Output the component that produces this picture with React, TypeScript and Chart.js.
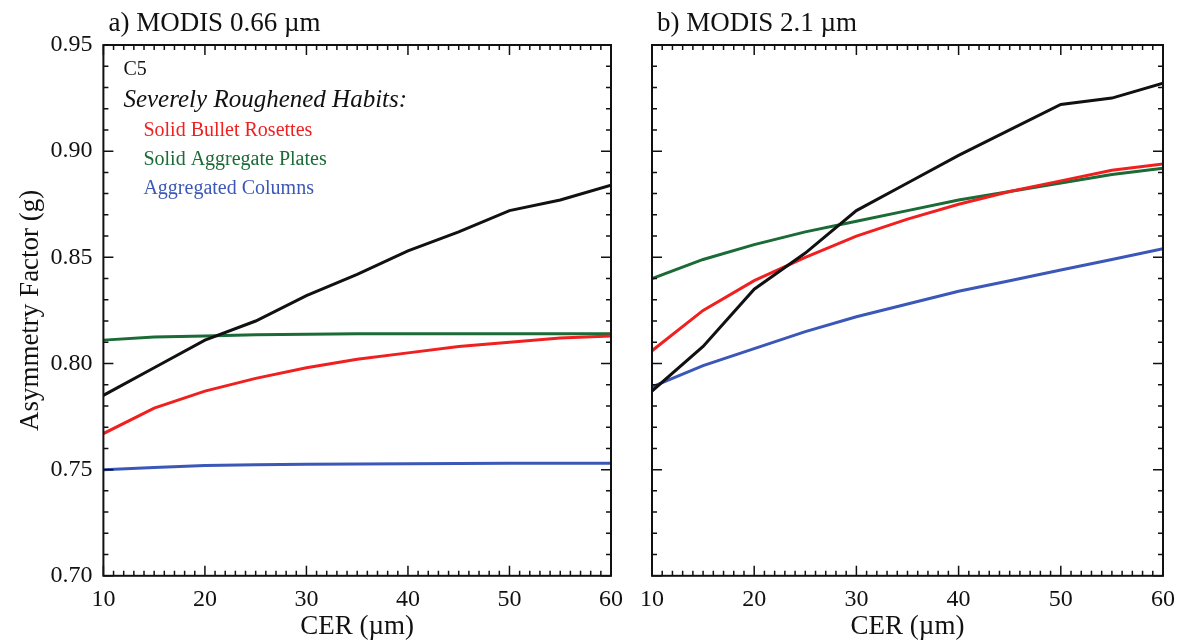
import React, { useRef, useEffect } from 'react';
import Chart from 'chart.js/auto';

const cer = [10, 15, 20, 25, 30, 35, 40, 45, 50, 55, 60];

// a) MODIS 0.66 um
const aBlack = [0.785, 0.798, 0.811, 0.820, 0.832, 0.842, 0.853, 0.862, 0.872, 0.877, 0.884];
const aRed = [0.767, 0.779, 0.787, 0.793, 0.798, 0.802, 0.805, 0.808, 0.810, 0.812, 0.813];
const aGreen = [0.811, 0.8125, 0.813, 0.8135, 0.8138, 0.814, 0.814, 0.814, 0.814, 0.814, 0.814];
const aBlue = [0.750, 0.751, 0.752, 0.7523, 0.7525, 0.7527, 0.7528, 0.7529, 0.753, 0.753, 0.753];

// b) MODIS 2.1 um
const bBlack = [0.787, 0.808, 0.835, 0.852, 0.872, 0.885, 0.898, 0.910, 0.922, 0.925, 0.932];
const bRed = [0.806, 0.825, 0.839, 0.850, 0.860, 0.868, 0.875, 0.881, 0.886, 0.891, 0.894];
const bGreen = [0.840, 0.849, 0.856, 0.862, 0.867, 0.872, 0.877, 0.881, 0.885, 0.889, 0.892];
const bBlue = [0.789, 0.799, 0.807, 0.815, 0.822, 0.828, 0.834, 0.839, 0.844, 0.849, 0.854];

const legendItems = [
  { text: 'Solid Bullet Rosettes', color: '#f02020' },
  { text: 'Solid Aggregate Plates', color: '#1a6b35' },
  { text: 'Aggregated Columns', color: '#3b58b8' },
];

const FONT = '"Liberation Serif", "Times New Roman", serif';

const tickPlugin = {
  id: 'inTicks',
  afterDraw(chart: any) {
    const { ctx, chartArea: a, scales } = chart;
    const x = scales.x, y = scales.y;
    ctx.save();
    ctx.strokeStyle = '#111';
    ctx.lineWidth = 1.5;
    for (let v = 10; v <= 60; v += 1) {
      const px = x.getPixelForValue(v);
      const len = v % 10 === 0 ? 10 : 5;
      ctx.beginPath();
      ctx.moveTo(px, a.bottom); ctx.lineTo(px, a.bottom - len);
      ctx.moveTo(px, a.top); ctx.lineTo(px, a.top + len);
      ctx.stroke();
    }
    for (let i = 0; i <= 25; i++) {
      const v = 0.7 + i * 0.01;
      const py = y.getPixelForValue(v);
      const len = i % 5 === 0 ? 10 : 5;
      ctx.beginPath();
      ctx.moveTo(a.left, py); ctx.lineTo(a.left + len, py);
      ctx.moveTo(a.right, py); ctx.lineTo(a.right - len, py);
      ctx.stroke();
    }
    ctx.lineWidth = 2;
    ctx.strokeRect(a.left, a.top, a.right - a.left, a.bottom - a.top);
    // panel title
    ctx.fillStyle = '#111';
    ctx.font = `27px ${FONT}`;
    ctx.textBaseline = 'alphabetic';
    ctx.fillText(chart.options.plugins.panelTitle, a.left + 5, 31);
    ctx.restore();
  },
};

const legendPlugin = {
  id: 'textLegend',
  afterDraw(chart: any) {
    const { ctx, chartArea: a } = chart;
    ctx.save();
    ctx.textBaseline = 'alphabetic';
    ctx.fillStyle = '#111';
    ctx.font = `20px ${FONT}`;
    ctx.fillText('C5', a.left + 20, a.top + 30);
    ctx.font = `italic 25px ${FONT}`;
    ctx.fillText('Severely Roughened Habits:', a.left + 20, a.top + 62);
    ctx.font = `20px ${FONT}`;
    legendItems.forEach((it, i) => {
      ctx.fillStyle = it.color;
      ctx.fillText(it.text, a.left + 40, a.top + 91 + i * 29);
    });
    ctx.restore();
  },
};

interface PanelProps {
  title: string;
  series: number[][];
  showY: boolean;
  withLegend: boolean;
  width: number;
  padLeft: number;
  padRight: number;
}

const Panel: React.FC<PanelProps> = ({ title, series, showY, withLegend, width, padLeft, padRight }) => {
  const ref = useRef<HTMLCanvasElement | null>(null);
  useEffect(() => {
    if (!ref.current) return;
    const colors = ['#111111', '#f02020', '#1a6b35', '#3b58b8'];
    const chart = new Chart(ref.current, {
      type: 'line',
      data: {
        datasets: series.map((s, i) => ({
          data: s.map((v, j) => ({ x: cer[j], y: v })),
          borderColor: colors[i],
          borderWidth: 3,
          pointRadius: 0,
          tension: 0,
        })),
      },
      options: {
        animation: false,
        responsive: false,
        layout: { padding: { top: 45, right: padRight, left: padLeft, bottom: 0 } },
        plugins: {
          legend: { display: false },
          tooltip: { enabled: false },
          panelTitle: title,
        } as any,
        scales: {
          x: {
            type: 'linear', min: 10, max: 60,
            ticks: { stepSize: 10, color: '#111', font: { family: FONT, size: 24 }, padding: 2 },
            grid: { display: false },
            border: { display: false },
            title: { display: true, text: 'CER (µm)', color: '#111', font: { family: FONT, size: 27 }, padding: { top: -6, bottom: 0 } },
          },
          y: {
            min: 0.7, max: 0.95,
            ticks: {
              display: showY, stepSize: 0.05, color: '#111', font: { family: FONT, size: 24 },
              callback: (v: any) => Number(v).toFixed(2),
            },
            grid: { display: false },
            border: { display: false },
            title: { display: showY, text: 'Asymmetry Factor (g)', color: '#111', font: { family: FONT, size: 27 }, padding: 0 },
          },
        },
      },
      plugins: withLegend ? [tickPlugin, legendPlugin] : [tickPlugin],
    });
    return () => chart.destroy();
  }, []);
  return <canvas ref={ref} width={width} height={643} style={{ display: 'block' }} />;
};

export default function App() {
  return (
    <div style={{ position: 'absolute', left: 0, top: 0, width: 1179, height: 643, background: '#fff', overflow: 'hidden' }}>
      <div style={{ position: 'absolute', left: 0, top: 0 }}>
        <Panel title="a) MODIS 0.66 µm" series={[aBlack, aRed, aGreen, aBlue]} showY withLegend
          width={625} padLeft={15} padRight={12} />
      </div>
      <div style={{ position: 'absolute', left: 625, top: 0 }}>
        <Panel title="b) MODIS 2.1 µm" series={[bBlack, bRed, bGreen, bBlue]} showY={false} withLegend={false}
          width={554} padLeft={19} padRight={16} />
      </div>
    </div>
  );
}
